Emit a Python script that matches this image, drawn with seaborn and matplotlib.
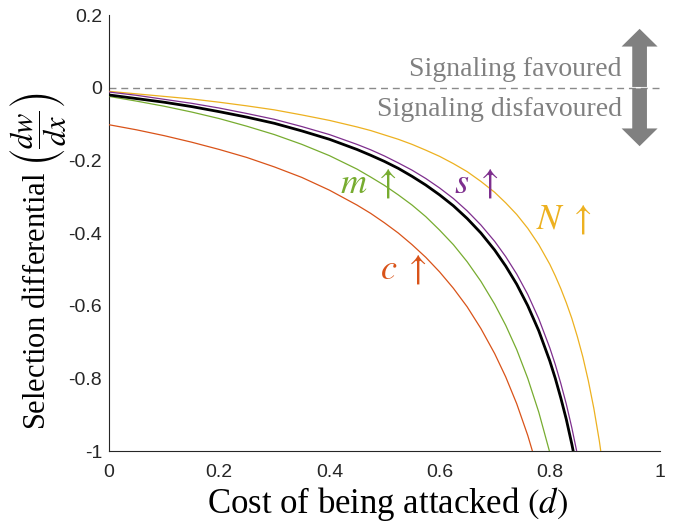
import numpy as np
import pandas as pd
import matplotlib
matplotlib.use('Agg')
import matplotlib.pyplot as plt
import seaborn as sns

# ── Datos ──────────────────────────────────────────────────────────────────
cost_d = [0, 0.05, 0.10, 0.15, 0.20, 0.25, 0.30, 0.35, 0.40, 0.45, 0.475,
          0.50, 0.525, 0.55, 0.575, 0.60, 0.625, 0.65, 0.675, 0.70, 0.72,
          0.74, 0.76, 0.78, 0.80, 0.81, 0.82, 0.83, 0.84, 0.85, 0.86, 0.87,
          0.88, 0.89, 0.90]

sel_base = [-0.020, -0.030, -0.040, -0.052, -0.066, -0.081, -0.098, -0.119,
            -0.142, -0.170, -0.186, -0.203, -0.222, -0.244, -0.268, -0.295,
            -0.325, -0.360, -0.400, -0.447, -0.491, -0.541, -0.600, -0.669,
            -0.752, -0.800, -0.854, -0.913, -0.981, -1.057, -1.144, -1.245,
            -1.362, -1.501, -1.667]
sel_c = [-0.102, -0.116, -0.132, -0.150, -0.170, -0.192, -0.218, -0.247,
         -0.282, -0.323, -0.346, -0.372, -0.400, -0.432, -0.467, -0.507,
         -0.552, -0.603, -0.663, -0.732, -0.796, -0.870, -0.957, -1.059,
         -1.182, -1.253, -1.332, -1.420, -1.520, -1.632, -1.761, -1.909,
         -2.082, -2.287, -2.532]
sel_m = [-0.024, -0.037, -0.051, -0.067, -0.085, -0.106, -0.129, -0.156,
         -0.187, -0.224, -0.246, -0.269, -0.295, -0.323, -0.355, -0.392,
         -0.432, -0.479, -0.533, -0.596, -0.654, -0.721, -0.800, -0.893,
         -1.004, -1.068, -1.140, -1.220, -1.310, -1.412, -1.529, -1.664,
         -1.821, -2.006, -2.229]
sel_s = [-0.012, -0.021, -0.032, -0.043, -0.056, -0.071, -0.087, -0.107,
         -0.129, -0.156, -0.171, -0.188, -0.207, -0.227, -0.250, -0.276,
         -0.305, -0.339, -0.378, -0.423, -0.465, -0.513, -0.569, -0.636,
         -0.716, -0.762, -0.814, -0.871, -0.936, -1.009, -1.093, -1.190,
         -1.303, -1.436, -1.596]
sel_N = [-0.010, -0.017, -0.024, -0.031, -0.040, -0.050, -0.061, -0.075,
         -0.090, -0.108, -0.118, -0.130, -0.142, -0.156, -0.172, -0.189,
         -0.209, -0.231, -0.258, -0.288, -0.317, -0.349, -0.387, -0.432,
         -0.486, -0.518, -0.553, -0.592, -0.635, -0.685, -0.741, -0.807,
         -0.883, -0.973, -1.081]

y_ticks = [0.2, 0, -0.2, -0.4, -0.6, -0.8, -1]
y_ticklabels = ['0.2', '0', '-0.2', '-0.4', '-0.6', '-0.8', '-1']
x_ticks = [0, 0.2, 0.4, 0.6, 0.8, 1]
x_ticklabels = ['0', '0.2', '0.4', '0.6', '0.8', '1']

# ── Estilo ────────────────────────────────────────────────────────────────
sns.set_style('white')
plt.rcParams['font.family'] = ['Liberation Sans', 'DejaVu Sans']
plt.rcParams['mathtext.fontset'] = 'stix'

c_red, c_green, c_purple, c_yellow = '#D95319', '#77AC30', '#7E2F8E', '#EDB120'
gris = '#808080'
tinta = '#262626'

fig = plt.figure(figsize=(6.74, 5.27), dpi=100)
ax = fig.add_axes([0.1617, 0.1442, 0.8175, 0.8273])

for vals, col, lw, z in [
    (sel_c,    c_red,    0.9, 3),
    (sel_m,    c_green,  0.9, 3),
    (sel_N,    c_yellow, 0.9, 3),
    (sel_s,    c_purple, 0.9, 3),
    (sel_base, 'black',  2.0, 4),
]:
    df = pd.DataFrame({'d': cost_d, 'w': vals})
    sns.lineplot(data=df, x='d', y='w', color=col, lw=lw, ax=ax, zorder=z,
                 estimator=None, sort=False)

# línea de cero
ax.axhline(0, color='#8a8a8a', lw=1.0, dashes=(5, 3.5), zorder=2)

# flecha doble
ax.arrow(0.963, 0.002, 0, 0.160, width=0.0267, head_width=0.0653,
         head_length=0.0488, length_includes_head=True, color=gris, lw=0, zorder=5)
ax.arrow(0.963, -0.002, 0, -0.159, width=0.0267, head_width=0.0653,
         head_length=0.0488, length_includes_head=True, color=gris, lw=0, zorder=5)

serif = ['Liberation Serif', 'DejaVu Serif']
ax.text(0.931, 0.033, 'Signaling favoured', ha='right', va='baseline',
        fontsize=20, color=gris, family=serif)
ax.text(0.931, -0.078, 'Signaling disfavoured', ha='right', va='baseline',
        fontsize=20, color=gris, family=serif)

# etiquetas de parámetros
for txt, x, y, col in [
    (r'$m\;\uparrow$', 0.419, -0.290, c_green),
    (r'$s\;\uparrow$', 0.626, -0.290, c_purple),
    (r'$N\;\uparrow$', 0.775, -0.389, c_yellow),
    (r'$c\;\uparrow$', 0.492, -0.524, c_red),
]:
    ax.text(x, y, txt, ha='left', va='baseline', fontsize=26, color=col)

ax.set_xlim(0, 1)
ax.set_ylim(-1, 0.2)
ax.set_xticks(x_ticks)
ax.set_xticklabels(x_ticklabels)
ax.set_yticks(y_ticks)
ax.set_yticklabels(y_ticklabels)
ax.tick_params(direction='in', length=4, width=0.8, color=tinta,
               labelcolor=tinta, labelsize=14)
ax.tick_params(axis='x', pad=9)
ax.tick_params(axis='y', pad=5)

sns.despine(ax=ax)
for sp in ['left', 'bottom']:
    ax.spines[sp].set_color(tinta)
    ax.spines[sp].set_linewidth(0.8)

ax.set_xlabel(r'Cost of being attacked $(d)$', fontsize=25, family=serif,
              color='black', va='baseline')
ax.xaxis.set_label_coords(0.505, -0.142)
ax.set_ylabel(r'Selection differential $\left(\dfrac{dw}{dx}\right)$', fontsize=22,
              family=serif, color='black', va='center', ha='center')
ax.yaxis.set_label_coords(-0.127, 0.435)

plt.savefig('out.png', dpi=100)
plt.close()
